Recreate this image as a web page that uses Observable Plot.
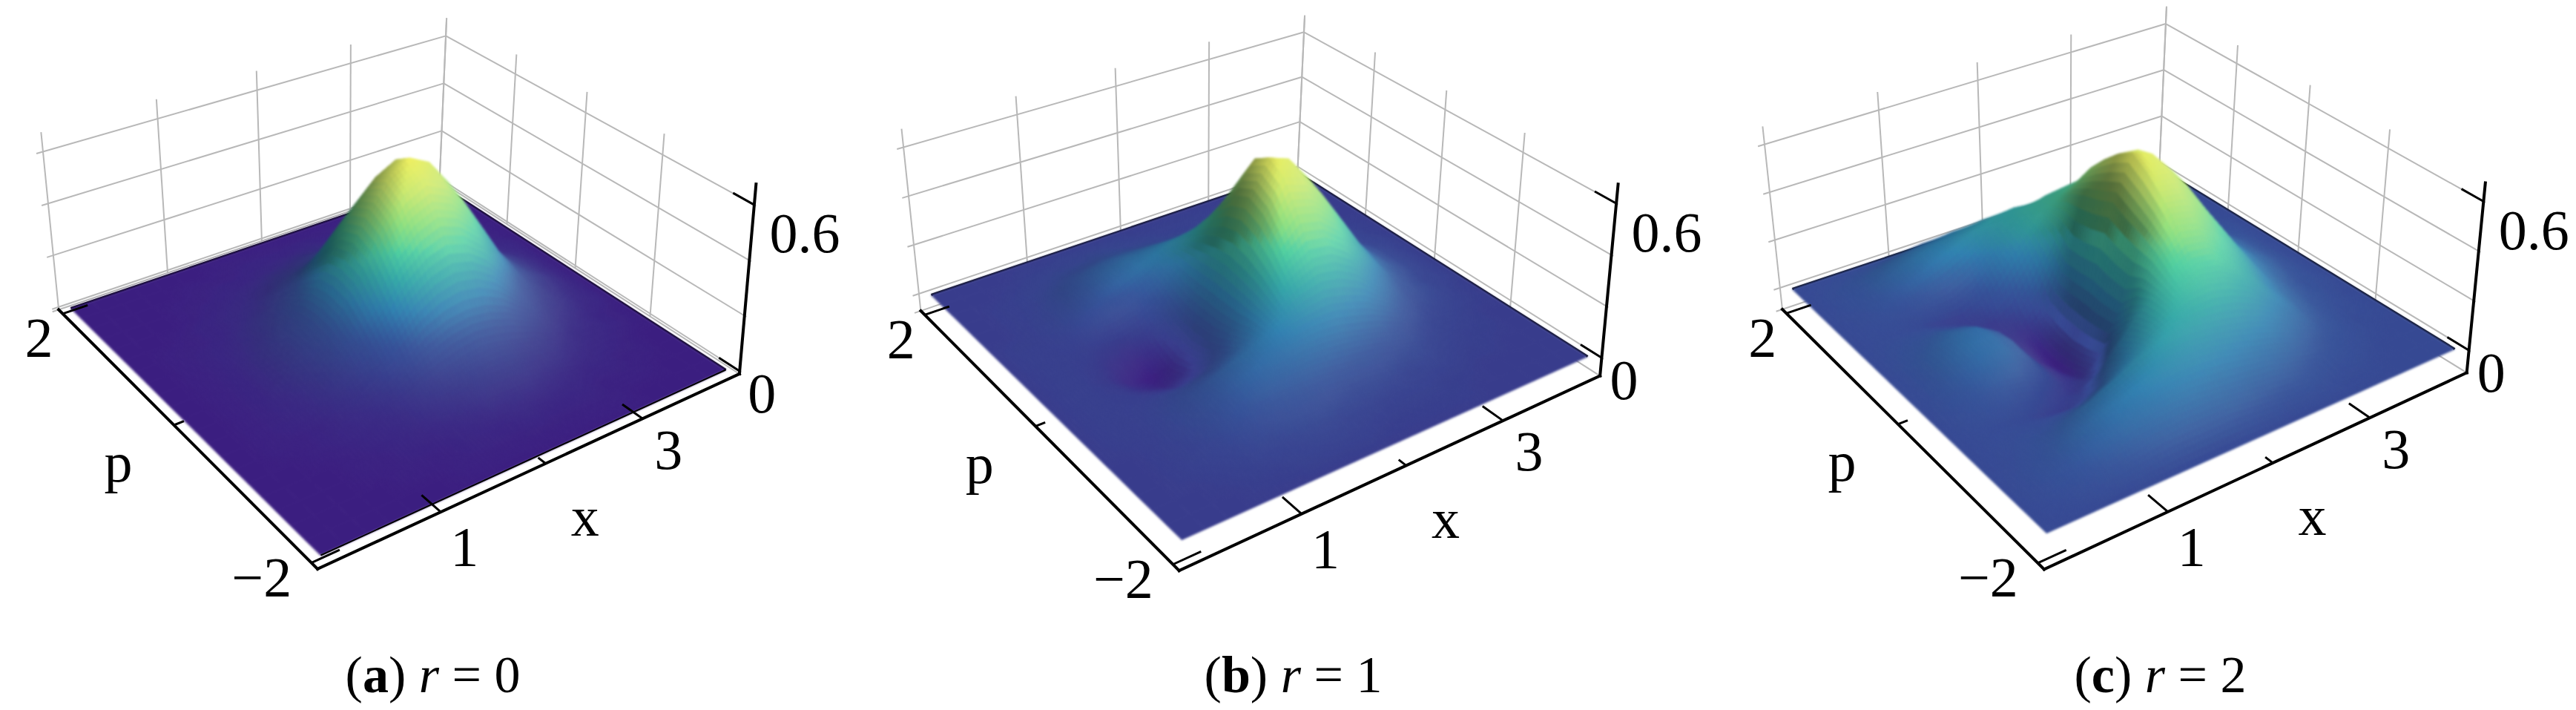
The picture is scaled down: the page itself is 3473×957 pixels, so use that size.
<!DOCTYPE html>
<html><head><meta charset="utf-8">
<style>html,body{margin:0;padding:0;background:#fff}svg{display:block}</style>
<script src="https://cdn.jsdelivr.net/npm/d3@7"></script>
<script src="https://cdn.jsdelivr.net/npm/@observablehq/plot@0.6"></script>
</head><body><div id="c"></div>
<script>
// Height readings (value x 100). Each list: x = 0 to 4 in steps of 0.2; lists run p = 0, 0.2 ... 2; the surfaces are mirror-symmetric in p.
const gridX = [0,.2,.4,.6,.8,1,1.2,1.4,1.6,1.8,2,2.2,2.4,2.6,2.8,3,3.2,3.4,3.6,3.8,4];
const gridP = [0,.2,.4,.6,.8,1,1.2,1.4,1.6,1.8,2];
const surfaceA = [
[0,0,1,2,5,9,15,24,37,50,60,64,60,50,37,24,15,9,5,2,0],
[0,0,1,2,5,9,14,23,35,47,56,60,56,47,35,23,14,9,5,2,0],
[0,0,1,2,4,7,12,19,28,39,46,49,46,39,28,19,12,7,4,2,0],
[0,0,1,2,3,6,9,14,21,29,34,36,34,29,21,14,9,6,3,2,0],
[0,0,1,1,2,4,6,10,14,19,22,23,22,19,14,10,6,4,2,1,0],
[0,0,0,1,2,3,4,6,9,11,13,14,13,11,9,6,4,3,2,1,0],
[0,0,0,0,1,2,3,4,6,7,9,9,9,7,6,4,3,2,1,0,0],
[0,0,0,0,1,1,2,2,3,4,5,5,5,4,3,2,2,1,1,0,0],
[0,0,0,0,0,1,1,1,2,2,2,3,2,2,2,1,1,1,0,0,0],
[0,0,0,0,0,0,0,1,1,1,1,1,1,1,1,1,0,0,0,0,0],
[0,0,0,0,0,0,0,0,0,0,0,0,0,0,0,0,0,0,0,0,0]];
const surfaceB = [
[0,1,1,-1,-5,-7,-5,3,14,30,50,63,60,50,37,24,14,8,4,2,0],
[0,1,1,0,-3,-5,-3,4,14,29,47,59,56,47,35,23,13,8,4,2,0],
[0,1,1,1,0,-1,1,7,15,27,40,48,46,39,28,19,11,6,3,2,0],
[0,1,1,2,4,5,7,11,17,24,31,35,34,29,21,14,8,5,3,1,0],
[0,1,1,3,6,9,12,15,18,21,23,24,22,19,14,9,5,3,2,1,0],
[0,0,1,3,6,9,12,14,15,16,16,15,13,11,8,5,3,2,1,0,0],
[0,0,1,2,5,8,10,11,11,11,10,9,8,6,5,3,2,1,1,0,0],
[0,0,1,2,3,5,6,7,7,6,5,5,4,3,3,2,1,1,0,0,0],
[0,0,0,1,2,3,3,4,4,3,3,2,2,2,1,1,0,0,0,0,0],
[0,0,0,0,1,1,2,2,2,2,1,1,1,1,1,0,0,0,0,0,0],
[0,0,0,0,0,0,0,0,0,0,0,0,0,0,0,0,0,0,0,0,0]];
const surfaceC = [
[0,4,8,11,11,6,-5,-10,-3,18,46,63,60,51,39,26,16,9,5,2,0],
[0,4,7,10,10,5,-4,-9,-2,17,43,59,58,49,37,25,15,9,5,2,0],
[0,3,5,7,6,2,-4,-6,0,17,41,53,52,44,34,23,13,8,4,2,0],
[0,2,3,3,1,-2,-4,-1,10,24,38,46,44,37,28,19,11,6,3,2,0],
[0,1,1,0,-2,-3,0,10,19,27,33,37,36,30,23,15,9,5,3,1,0],
[0,1,2,2,3,4,8,15,22,27,30,31,29,25,19,13,7,4,2,1,0],
[0,1,3,5,8,12,16,20,23,24,23,22,20,17,13,9,5,3,1,1,0],
[0,2,4,7,10,13,15,17,18,18,17,15,13,11,8,5,3,2,1,0,0],
[0,2,4,6,8,10,11,12,12,11,10,9,8,6,4,3,2,1,0,0,0],
[0,1,2,3,4,5,6,6,6,6,5,4,3,3,2,1,1,0,0,0,0],
[0,0,0,0,0,0,0,0,0,0,0,0,0,0,0,0,0,0,0,0,0]];

const xGridTicks = [1,2,3];
const pGridTicks = [1,0,-1];
const zGridTicks = [0,.2,.4,.6];
const xAxisTicks = [[1,.24],[2,.09],[3,.24]];
const pAxisTicks = [[2,.24],[0,.09],[-2,.24]];
const zAxisTicks = [0,.6];
const tickLabels = [
  {k:"x",v:1,t:"1",dx:32,dy:49},{k:"x",v:3,t:"3",dx:35,dy:43},
  {k:"p",v:2,t:"2",dx:-32,dy:34},{k:"p",v:-2,t:"\u22122",dx:-67,dy:21},
  {k:"z",v:0,t:"0",dx:30,dy:31},{k:"z",v:.6,t:"0.6",dx:68,dy:40}];
const axisNames = [{k:"x",v:2,t:"x",dx:53,dy:73},{k:"p",v:0,t:"p",dx:-75,dy:52}];
const captionTags = ["a","b","c"];
const captionValues = ["0","1","2"];
const colorStops = ["#3b1e80","#38398a","#355399","#3080b0","#35a8a8","#50cfa0","#8fe07f","#c8e870","#f0f060"];

// Camera of each panel: where the z = 0 corners of the surface fall on the page and how far z = 0.6 lifts them
const panels = [
 {rows:surfaceA,B:[432,748],R:[978,498],K:[590,247],L:[95,415],frontRim:true,
  lB:[-5,-250],lR:[19,-224],lK:[8,-193],lL:[-20,-210],zmin:-.01,zDomain:[0,.64],zRange:[0,1],arc:[553,337,.0016],cap:583},
 {rows:surfaceB,B:[1593,727],R:[2140,480],K:[1747,231],L:[1255,397],
  lB:[-5,-235],lR:[19,-208],lK:[8,-182],lL:[-20,-198],zmin:-.07,zDomain:[-.07,0,.64],zRange:[0,.14,1],arc:[1707,322,.0018],cap:1743},
 {rows:surfaceC,B:[2759,718],R:[3309,470],K:[2909,225],L:[2416,389],
  lB:[-5,-230],lR:[19,-201],lK:[8,-187],lL:[-20,-194],zmin:-.09,zDomain:[-.1,0,.64],zRange:[0,.2,1],arc:[2815,313,.0014],cap:2912}];

function homography(p){
  const [x0,y0]=p.B,[x1,y1]=p.R,[x2,y2]=p.K,[x3,y3]=p.L;
  const dx1=x1-x2,dx2=x3-x2,sx=x0-x1+x2-x3,dy1=y1-y2,dy2=y3-y2,sy=y0-y1+y2-y3;
  const den=dx1*dy2-dx2*dy1,g=(sx*dy2-dx2*sy)/den,h=(dx1*sy-sx*dy1)/den;
  const a=x1-x0+g*x1,b=x3-x0+h*x3,c=x0,d=y1-y0+g*y1,e=y3-y0+h*y3,f=y0;
  return (u,v)=>{const w=g*u+h*v+1;return[(a*u+b*v+c)/w,(d*u+e*v+f)/w];};
}
function projector(P){
  const H=homography(P);
  return (x,p,z)=>{
    const u=x/4,v=(p+2)/4,[sx,sy]=H(u,v),t=z/.6;
    const w=[(1-u)*(1-v),u*(1-v),u*v,(1-u)*v];
    const l=[P.lB,P.lR,P.lK,P.lL];
    return [sx+t*d3.sum(l,(q,i)=>q[0]*w[i]),sy+t*d3.sum(l,(q,i)=>q[1]*w[i])];
  };
}
const ramp=d3.scaleLinear().domain(colorStops.map((_,i)=>i/(colorStops.length-1))).range(colorStops).interpolate(d3.interpolateRgb);

const quads=[],grid=[],rear=[],front=[],axes=[],ticks=[],labels=[],names=[];
const seg=(a,b)=>({x1:a[0],y1:a[1],x2:b[0],y2:b[1]});
const TILES=5; // shading steps inside one data cell (Gouraud-style colour only)
panels.forEach((P,pi)=>{
  const pr=projector(P),pad=.08,lo=-pad,hi=4+pad,pl=-2-pad,ph=2+pad,zT=.675,zm=P.zmin;
  const tScale=d3.scaleLinear().domain(P.zDomain).range(P.zRange).clamp(true);
  const zv=(i,j)=>P.rows[Math.abs(j)][i];
  const pv=j=>(j<0?-1:1)*gridP[Math.abs(j)];
  // slope towards the screen right at each grid vertex, from the neighbouring readings
  const slope=(i,j)=>{
    const i0=Math.max(0,i-1),i1=Math.min(20,i+1),j0=Math.max(-10,j-1),j1=Math.min(10,j+1);
    return (zv(i1,j)-zv(i0,j))/(gridX[i1]-gridX[i0])-(zv(i,j1)-zv(i,j0))/(pv(j1)-pv(j0));
  };
  const tiles=[];
  for(let i=0;i<20;i++)for(let j=-10;j<10;j++){
    const x0=gridX[i],x1=gridX[i+1],p0=pv(j),p1=pv(j+1);
    const z00=zv(i,j),z10=zv(i+1,j),z11=zv(i+1,j+1),z01=zv(i,j+1);
    const s00=slope(i,j),s10=slope(i+1,j),s11=slope(i+1,j+1),s01=slope(i,j+1);
    const flat=Math.max(Math.abs(z00),Math.abs(z10),Math.abs(z11),Math.abs(z01))===0;
    const n=flat?1:TILES;
    for(let a=0;a<n;a++)for(let b=0;b<n;b++){
      const bil=(f00,f10,f11,f01,u,v)=>(1-u)*(1-v)*f00+u*(1-v)*f10+u*v*f11+(1-u)*v*f01;
      const corner=(u,v)=>{const X=x0+(x1-x0)*u,Q=p0+(p1-p0)*v,Z=bil(z00,z10,z11,z01,u,v);return pr(X,Q,Z/100);};
      const uc=(a+.5)/n,vc=(b+.5)/n;
      tiles.push({key:x0+(x1-x0)*uc+p0+(p1-p0)*vc,
        pts:[corner(a/n,b/n),corner((a+1)/n,b/n),corner((a+1)/n,(b+1)/n),corner(a/n,(b+1)/n)],
        zc:bil(z00,z10,z11,z01,uc,vc),s:bil(s00,s10,s11,s01,uc,vc),cen:corner(uc,vc)});
    }
  }
  tiles.sort((a,b)=>b.key-a.key);
  tiles.forEach((c,ci)=>{
    const id=pi+"-"+ci;
    const arcY=P.arc[1]+P.arc[2]*(c.cen[0]-P.arc[0])**2;
    const below=Math.max(0,Math.min(1,(c.cen[1]-arcY)/14+.5));
    const relief=Math.min(1,Math.abs(c.zc)/6);
    let t=tScale(c.zc/100)-.02*below*Math.min(1,Math.max(0,c.zc)/20);
    let col=d3.rgb(ramp(Math.max(0,t)));
    const sn=Math.max(-1,Math.min(1,c.s/95));
    if(sn>0){const f=1-(.52-.17*below)*sn*relief;col=d3.rgb(col.r*f,col.g*f,col.b*f);}
    else{col=d3.rgb(d3.interpolateRgb(col,"#ffffff")(-sn*.2*relief));}
    const tone=col.formatHex();
    c.pts.forEach(s=>quads.push({id,px:s[0],py:s[1],tone}));
  });
  // back walls
  [lo,...xGridTicks,hi].forEach(x=>grid.push(seg(pr(x,ph,zm),pr(x,ph,zT))));
  [ph,...pGridTicks,pl].forEach(p=>grid.push(seg(pr(hi,p,zm),pr(hi,p,zT))));
  [zm,...zGridTicks].forEach(z=>{
    grid.push(seg(pr(lo-.06,ph,z),pr(hi,ph,z)));
    grid.push(seg(pr(hi,ph,z),pr(hi,pl-.02,z)));
  });
  // surface rear rim
  rear.push(seg(pr(0,2,0),pr(4,2,0)),seg(pr(4,2,0),pr(4,-2,0)));
  if(P.frontRim)front.push(seg(pr(0,-2,0),pr(4,-2,0)));
  // axes
  axes.push(seg(pr(lo,ph,zm),pr(lo,pl,zm)),seg(pr(lo,pl,zm),pr(hi,pl,zm)),seg(pr(hi,pl,zm),pr(hi,pl,zT)));
  xAxisTicks.forEach(([v,l])=>ticks.push(seg(pr(v,pl,zm),pr(v,pl+l,zm))));
  pAxisTicks.forEach(([v,l])=>ticks.push(seg(pr(lo,v,zm),pr(lo+l,v,zm))));
  zAxisTicks.forEach(v=>ticks.push(seg(pr(hi,pl,v),pr(hi,pl+.24,v))));
  const at=(k,v)=>k==="x"?pr(v,pl,zm):k==="p"?pr(lo,v,zm):pr(hi,pl,v);
  tickLabels.forEach(l=>{const q=at(l.k,l.v);labels.push({px:q[0]+l.dx,py:q[1]+l.dy,t:l.t});});
  axisNames.forEach(l=>{const q=at(l.k,l.v);names.push({px:q[0]+l.dx,py:q[1]+l.dy,t:l.t});});
});
const captions=panels.map((P,i)=>({px:P.cap,py:910,t:`(${captionTags[i]}) r = ${captionValues[i]}`,tag:captionTags[i],val:captionValues[i]}));

const linkOpts={x1:"x1",y1:"y1",x2:"x2",y2:"y2"};
const font="'Liberation Serif',serif";
const chart=Plot.plot({
  width:3473,height:957,margin:0,style:{background:"#fff"},
  x:{domain:[0,3473],range:[0,3473],axis:null},
  y:{domain:[0,957],range:[0,957],axis:null},
  marks:[
    Plot.link(grid,{...linkOpts,stroke:"#b8b8b8",strokeWidth:2}),
    Plot.link(rear,{...linkOpts,stroke:"#000",strokeWidth:3}),
    Plot.line(quads,{x:"px",y:"py",z:"id",fill:"tone",stroke:"tone",strokeWidth:1,curve:"linear-closed"}),
    Plot.link(front,{...linkOpts,stroke:"#000",strokeWidth:2}),
    Plot.link(axes,{...linkOpts,stroke:"#000",strokeWidth:4,strokeLinecap:"square"}),
    Plot.link(ticks,{...linkOpts,stroke:"#000",strokeWidth:3}),
    Plot.text(labels,{x:"px",y:"py",text:"t",fontFamily:font,fontSize:76,fill:"#000"}),
    Plot.text(names,{x:"px",y:"py",text:"t",fontFamily:font,fontSize:76,fill:"#000"}),
    Plot.text(captions,{x:"px",y:"py",text:"t",fontFamily:font,fontSize:70,fill:"#000"})
  ]
});
document.getElementById("c").append(chart);
chart.querySelector('g[aria-label="line"]').style.filter="blur(1.5px)";
const textLayers=chart.querySelectorAll('g[aria-label="text"]');
textLayers[textLayers.length-1].querySelectorAll("text").forEach((n,i)=>{
  n.textContent="";n.setAttribute("xml:space","preserve");
  const c=captions[i];
  const add=(t,a)=>{const s=document.createElementNS("http://www.w3.org/2000/svg","tspan");s.textContent=t;for(const k in a)s.setAttribute(k,a[k]);n.append(s);};
  add("(",{});add(c.tag,{"font-weight":"bold"});add(") ",{});add("r",{"font-style":"italic"});add(" = ",{});add(c.val,{});
});
</script></body></html>
